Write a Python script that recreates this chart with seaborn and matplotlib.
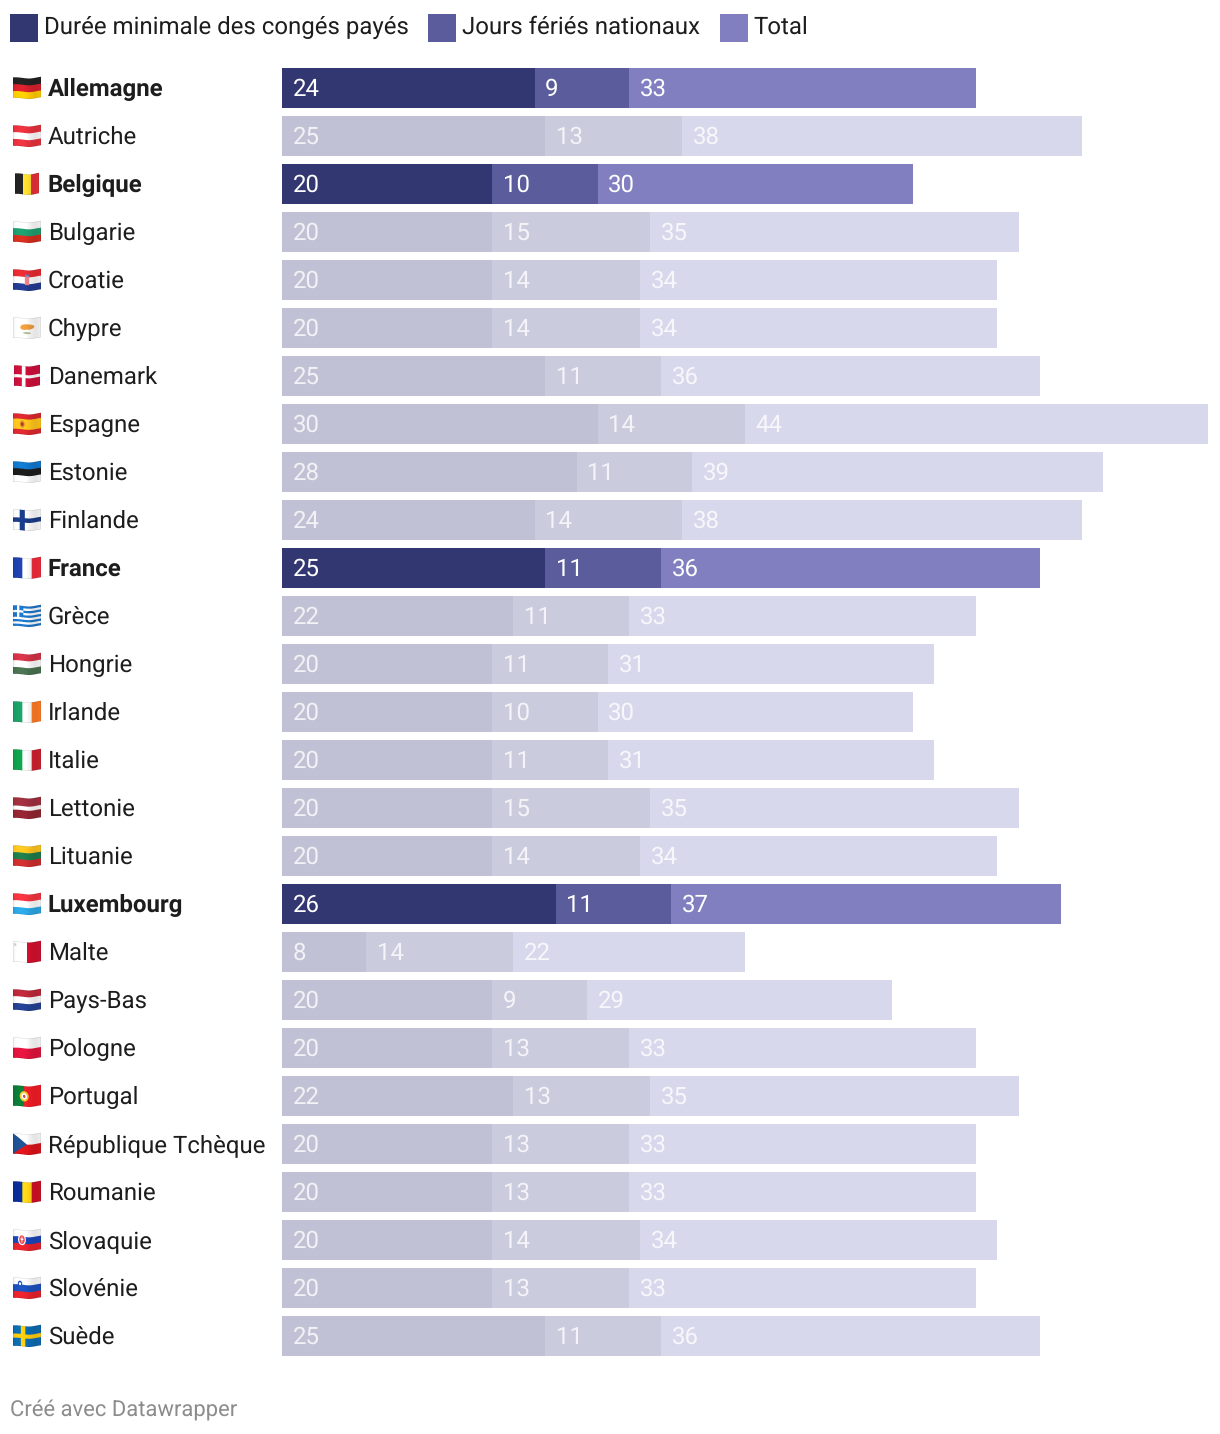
import numpy as np
import pandas as pd
import matplotlib
matplotlib.use("Agg")
import matplotlib.pyplot as plt
from matplotlib.patches import Rectangle
from matplotlib.transforms import blended_transform_factory
import seaborn as sns

countries = ["Allemagne", "Autriche", "Belgique", "Bulgarie", "Croatie", "Chypre", "Danemark",
             "Espagne", "Estonie", "Finlande", "France", "Grèce", "Hongrie", "Irlande", "Italie",
             "Lettonie", "Lituanie", "Luxembourg", "Malte", "Pays-Bas", "Pologne", "Portugal",
             "République Tchèque", "Roumanie", "Slovaquie", "Slovénie", "Suède"]
conges = [24, 25, 20, 20, 20, 20, 25, 30, 28, 24, 25, 22, 20, 20, 20, 20, 20, 26, 8, 20, 20, 22, 20, 20, 20, 20, 25]
feries = [9, 13, 10, 15, 14, 14, 11, 14, 11, 14, 11, 11, 11, 10, 11, 15, 14, 11, 14, 9, 13, 13, 13, 13, 14, 13, 11]
totaux = [33, 38, 30, 35, 34, 34, 36, 44, 39, 38, 36, 33, 31, 30, 31, 35, 34, 37, 22, 29, 33, 35, 33, 33, 34, 33, 36]
en_avant = ["Allemagne", "Belgique", "France", "Luxembourg"]
legend_labels = ["Durée minimale des congés payés", "Jours fériés nationaux", "Total"]
footer = "Créé avec Datawrapper"

COL_STRONG = ["#333771", "#5b5c9b", "#827fc0"]
COL_DIM = ["#c0c1d4", "#cbcbde", "#d8d8ec"]

W, H = 1220, 1434
sns.set_theme(style="white")
plt.rcParams["font.family"] = ["Roboto", "DejaVu Sans"]
plt.rcParams["text.hinting"] = "no_hinting"
plt.rcParams["text.hinting_factor"] = 1
FS = 23.85 * 0.72

fig = plt.figure(figsize=(W / 100, H / 100), dpi=100, facecolor="white")
ax = fig.add_axes([282 / W, 1 - 1360 / H, 926 / W, (1360 - 64) / H])

df = pd.DataFrame({"pays": countries, "a": conges, "b": feries, "t": totaux})
df["c1"] = df["a"]
df["c2"] = df["a"] + df["b"]
df["c3"] = df["a"] + df["b"] + df["t"]

for k, col in [(2, "c3"), (1, "c2"), (0, "c1")]:
    pal = {p: (COL_STRONG[k] if p in en_avant else COL_DIM[k]) for p in countries}
    sns.barplot(data=df, y="pays", x=col, hue="pays", palette=pal, order=countries, dodge=False,
                legend=False, width=40 / 48, saturation=1, errorbar=None, linewidth=0, ax=ax)

ax.set_xlim(0, 88.01)
ax.set_ylim(len(countries) - 0.5, -0.5)
ax.axis("off")

BASE = 8.1 / 48
PX = 88 / 926
lab_tr = blended_transform_factory(fig.transFigure, ax.transData)
for i, row in df.iterrows():
    hi = row["pays"] in en_avant
    ax.text(47.6 / W, i + BASE, row["pays"], transform=lab_tr, fontsize=FS, color="#1d1d1d",
            fontweight="bold" if hi else "normal", va="baseline", ha="left")
    for start, val in [(0, row["a"]), (row["c1"], row["b"]), (row["c2"], row["t"])]:
        ax.text(start + 10.7 * PX, i + BASE, str(val), fontsize=FS, color="white",
                alpha=1 if hi else 0.8, va="baseline", ha="left")

# Legend
for x0, lab, c in zip([10, 428, 720], legend_labels, COL_STRONG):
    fig.patches.append(Rectangle((x0 / W, 1 - 42 / H), 28 / W, 28 / H, transform=fig.transFigure,
                                 facecolor=c, edgecolor="none"))
    fig.text((x0 + 33.6) / W, 1 - 34.1 / H, lab, fontsize=FS, color="#1d1d1d", va="baseline", ha="left")

fig.text(10 / W, 1 - 1415.4 / H, footer, fontsize=21.85 * 0.72, color="#8c8c8c", va="baseline", ha="left")

# ---- Flag pictograms (decorative), rasterised with the wavy emoji look ----
R, WH, B = "#d8232f", "#f7f7f7", "#1f3f94"
FLAGS = {
    "Allemagne": [("h", ["#222222", "#d3212c", "#fdc800"])],
    "Autriche": [("h", ["#e3313d", WH, "#e3313d"])],
    "Belgique": [("v", ["#222222", "#fbd92f", "#e4303a"]), ("w", 0.86)],
    "Bulgarie": [("h", [WH, "#1f9a6c", "#cf2d1d"])],
    "Croatie": [("h", ["#e32a30", WH, "#233a8e"]), ("rect", .42, .58, .26, .72, "#e8808a"),
                ("rect", .42, .58, .20, .30, "#5f7ab8")],
    "Chypre": [("h", [WH]), ("ell", .52, .42, .24, .13, "#e8993a"), ("ell", .38, .47, .12, .11, "#e8993a"),
               ("ell", .50, .72, .14, .05, "#a8b890")],
    "Danemark": [("h", ["#c9103a"]), ("rect", .30, .44, 0, 1, WH), ("rect", 0, 1, .43, .58, WH), ("w", .93)],
    "Espagne": [("h", ["#d6282f", "#fbc21c", "#fbc21c", "#d6282f"]), ("ell", .33, .5, .09, .18, "#d08a30"),
                ("ell", .33, .5, .05, .09, "#b03026")],
    "Estonie": [("h", ["#1276c8", "#1c1c1c", WH])],
    "Finlande": [("h", [WH]), ("rect", .24, .42, 0, 1, "#1a3a85"), ("rect", 0, 1, .39, .61, "#1a3a85")],
    "France": [("v", ["#1f3fa8", WH, "#ee2a3c"])],
    "Grèce": [("h", ["#1c74c4", WH] * 4 + ["#1c74c4"]), ("rect", 0, .37, 0, 5 / 9, "#1c74c4"),
              ("rect", .145, .225, 0, 5 / 9, WH), ("rect", 0, .37, 2 / 9, 3 / 9, WH)],
    "Hongrie": [("h", ["#cf3346", WH, "#47704f"])],
    "Irlande": [("v", ["#1c9c63", WH, "#fb7a24"])],
    "Italie": [("v", ["#0f9d4a", WH, "#cd2130"])],
    "Lettonie": [("h", ["#9c2f3e", "#9c2f3e", WH, "#8f2530", "#8f2530"])],
    "Lituanie": [("h", ["#fbc01f", "#1f7a4a", "#c92d2d"])],
    "Luxembourg": [("h", ["#ef3340", WH, "#2aa3e0"])],
    "Malte": [("v", [WH, "#d0102e"]), ("rect", .05, .12, .10, .22, "#c8c8c8")],
    "Pays-Bas": [("h", ["#b8283a", WH, "#24408f"])],
    "Pologne": [("h", [WH, "#dc143c"])],
    "Portugal": [("v2", "#0b7a36", "#ee1c25", .40), ("ell", .40, .5, .16, .25, "#e8c030"),
                 ("ell", .40, .5, .10, .16, WH), ("ell", .40, .5, .045, .08, "#c0484a")],
    "République Tchèque": [("h", [WH, "#d7141a"]), ("tri", .5, "#1f4f8f")],
    "Roumanie": [("v", ["#0b2b94", "#fcd116", "#ce1126"])],
    "Slovaquie": [("h", [WH, "#1c45b4", "#e3222c"]), ("ell", .32, .48, .14, .27, WH),
                  ("ell", .32, .48, .10, .21, "#e0404a"), ("rect", .305, .335, .33, .62, WH),
                  ("rect", .27, .37, .42, .49, WH)],
    "Slovénie": [("h", [WH, "#1c50b8", "#e3222c"]), ("ell", .25, .30, .08, .15, "#1c50b8"),
                 ("ell", .25, .30, .04, .07, WH)],
    "Suède": [("h", ["#0b6aaf"]), ("rect", .28, .44, 0, 1, "#fcc60f"), ("rect", 0, 1, .40, .60, "#fcc60f")],
}


def rgb(c):
    return np.array(matplotlib.colors.to_rgb(c))


def draw_flag(spec, ss=6, wpx=28, hpx=26, body=20.5):
    scale = 1.0
    for op in spec:
        if op[0] == "w":
            scale = op[1]
    hh, ww = hpx * ss, wpx * ss
    yy, xx = np.mgrid[0:hh, 0:ww]
    xpx = (xx + 0.5) / ss
    ypx = (yy + 0.5) / ss
    fw = wpx * scale
    u = (xpx - (wpx - fw) / 2) / fw
    wave = np.sin(2 * np.pi * (u - 0.3)) * (0.35 + 0.65 * np.clip(u, 0, 1))
    v = (ypx - hpx / 2 - wave) / body + 0.5
    img = np.ones((hh, ww, 3))
    for op in spec:
        if op[0] == "h":
            n = len(op[1])
            idx = np.clip((v * n).astype(int), 0, n - 1)
            img = np.array([rgb(c) for c in op[1]])[idx]
        elif op[0] == "v":
            n = len(op[1])
            idx = np.clip((u * n).astype(int), 0, n - 1)
            img = np.array([rgb(c) for c in op[1]])[idx]
        elif op[0] == "v2":
            img[u < op[3]] = rgb(op[1])
            img[u >= op[3]] = rgb(op[2])
        elif op[0] == "rect":
            img[(u >= op[1]) & (u < op[2]) & (v >= op[3]) & (v < op[4])] = rgb(op[5])
        elif op[0] == "ell":
            img[((u - op[1]) / op[3]) ** 2 + ((v - op[2]) / op[4]) ** 2 <= 1] = rgb(op[5])
        elif op[0] == "tri":
            img[u < op[1] * (1 - np.abs(2 * v - 1))] = rgb(op[2])
    # soft fold shading and a faint edge
    shade = 1 + 0.07 * np.sin(2 * np.pi * (u - 0.05))
    img = np.clip(img * shade[..., None], 0, 1)
    e = 0.55 / body
    eu = 0.55 / fw
    border = (v < e) | (v > 1 - e) | (u < eu) | (u > 1 - eu)
    img[border] = img[border] * 0.86
    alpha = ((u >= 0) & (u <= 1) & (v >= 0) & (v <= 1)).astype(float)
    rgba = np.dstack([img * alpha[..., None], alpha])
    small = rgba.reshape(hpx, ss, wpx, ss, 4).mean(axis=(1, 3))
    a = small[..., 3:4]
    col = np.divide(small[..., :3], a, out=np.ones_like(small[..., :3]), where=a > 0)
    return np.dstack([col, a])


for i, p in enumerate(countries):
    arr = draw_flag(FLAGS[p])
    cy = 88 + 48 * i
    fig.figimage(arr, xo=13, yo=H - (cy + 13), origin="upper", zorder=5)

fig.savefig("out.png", dpi=100, facecolor="white")
